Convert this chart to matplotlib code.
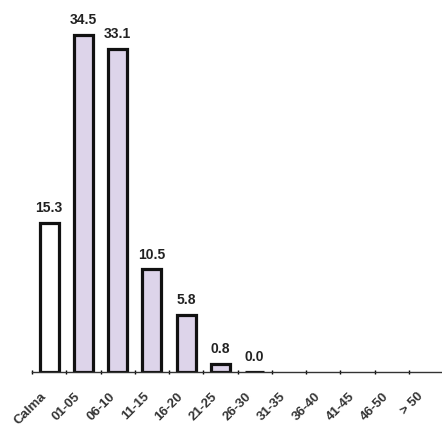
import numpy as np
import matplotlib.pyplot as plt
from matplotlib.transforms import ScaledTranslation

categorias = ['Calma', '01-05', '06-10', '11-15', '16-20', '21-25', '26-30',
              '31-35', '36-40', '41-45', '46-50', '> 50']
valores = [15.3, 34.5, 33.1, 10.5, 5.8, 0.8, 0.0]
rotulos = ['15.3', '34.5', '33.1', '10.5', '5.8', '0.8', '0.0']

fig = plt.figure(figsize=(4.42, 4.26), dpi=100)
ax = fig.add_axes([0.0724, 0.127, 0.93, 0.873])

x = np.arange(len(valores))
cores = ['white'] + ['#ddd4ea'] * (len(valores) - 1)
ax.bar(x, valores, width=0.56, color=cores, edgecolor='#111111', linewidth=2.3)

for xi, v, r in zip(x, valores, rotulos):
    ax.text(xi, v + 0.8, r, ha='center', va='bottom', fontsize=10,
            fontweight='bold', color='#222222', family='Liberation Sans')

ax.set_xlim(-0.5, 11.5)
ax.set_ylim(0, 38.1)
ax.set_xticks(np.arange(len(categorias)))
ax.set_xticklabels(categorias, rotation=45, ha='right', rotation_mode='anchor',
                   fontsize=9.5, fontweight='bold', color='#333333',
                   family='Liberation Sans')
ax.tick_params(axis='x', which='major', length=0, pad=6)
desloc = ScaledTranslation(-0.09, -0.10, fig.dpi_scale_trans)
for lbl in ax.get_xticklabels():
    lbl.set_transform(lbl.get_transform() + desloc)
ax.set_xticks(np.arange(-0.5, 11.5, 1.0), minor=True)
ax.tick_params(axis='x', which='minor', length=3, width=1, direction='inout')
ax.set_yticks([])

for s in ['left', 'right', 'top']:
    ax.spines[s].set_visible(False)
ax.spines['bottom'].set_linewidth(1)
ax.spines['bottom'].set_color('#333333')

fig.savefig('out.png', dpi=100)
